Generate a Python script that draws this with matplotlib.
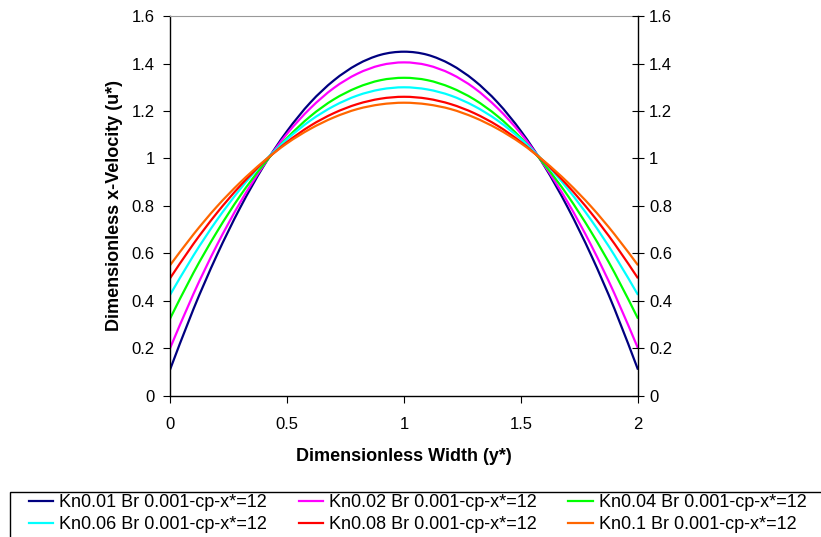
import matplotlib
matplotlib.use("Agg")
import matplotlib.pyplot as plt
import numpy as np
from matplotlib.path import Path
from matplotlib.patches import PathPatch, Rectangle
from matplotlib.lines import Line2D
from matplotlib.ticker import FuncFormatter

plt.rcParams['font.family'] = ['Liberation Sans', 'DejaVu Sans']

# dimensionless width positions
y_pos = [0.0, 0.1, 0.2, 0.3, 0.4, 0.5, 0.6, 0.7, 0.8, 0.9, 1.0,
         1.1, 1.2, 1.3, 1.4, 1.5, 1.6, 1.7, 1.8, 1.9, 2.0]

# velocity profiles
u_kn001 = [0.110, 0.365, 0.592, 0.793, 0.968, 1.115, 1.236, 1.329, 1.396, 1.437, 1.450,
           1.437, 1.396, 1.329, 1.236, 1.115, 0.968, 0.793, 0.592, 0.365, 0.110]
u_kn002 = [0.200, 0.429, 0.634, 0.815, 0.971, 1.104, 1.212, 1.297, 1.357, 1.393, 1.405,
           1.393, 1.357, 1.297, 1.212, 1.104, 0.971, 0.815, 0.634, 0.429, 0.200]
u_kn004 = [0.325, 0.518, 0.690, 0.843, 0.975, 1.086, 1.178, 1.249, 1.299, 1.330, 1.340,
           1.330, 1.299, 1.249, 1.178, 1.086, 0.975, 0.843, 0.690, 0.518, 0.325]
u_kn006 = [0.425, 0.591, 0.740, 0.871, 0.985, 1.081, 1.160, 1.221, 1.265, 1.291, 1.300,
           1.291, 1.265, 1.221, 1.160, 1.081, 0.985, 0.871, 0.740, 0.591, 0.425]
u_kn008 = [0.495, 0.640, 0.770, 0.885, 0.985, 1.069, 1.138, 1.191, 1.229, 1.252, 1.260,
           1.252, 1.229, 1.191, 1.138, 1.069, 0.985, 0.885, 0.770, 0.640, 0.495]
u_kn01 = [0.550, 0.680, 0.797, 0.899, 0.988, 1.064, 1.125, 1.173, 1.208, 1.228, 1.235,
          1.228, 1.208, 1.173, 1.125, 1.064, 0.988, 0.899, 0.797, 0.680, 0.550]

labels = ['Kn0.01 Br 0.001-cp-x*=12', 'Kn0.02 Br 0.001-cp-x*=12',
          'Kn0.04 Br 0.001-cp-x*=12', 'Kn0.06 Br 0.001-cp-x*=12',
          'Kn0.08 Br 0.001-cp-x*=12', 'Kn0.1 Br 0.001-cp-x*=12']
colors = ['#000080', '#FF00FF', '#00FF00', '#00FFFF', '#FF0000', '#FF6600']
series = [u_kn001, u_kn002, u_kn004, u_kn006, u_kn008, u_kn01]


def smooth_path(xs, ys):
    # Excel-style smoothed line: cubic bezier through the data points
    p = np.column_stack([xs, ys])
    n = len(p)
    verts = [p[0]]
    codes = [Path.MOVETO]
    for i in range(n - 1):
        p0 = p[i - 1] if i > 0 else p[i]
        p3 = p[i + 2] if i + 2 < n else p[i + 1]
        c1 = p[i] + (p[i + 1] - p0) / 6.0
        c2 = p[i + 1] - (p3 - p[i]) / 6.0
        verts += [c1, c2, p[i + 1]]
        codes += [Path.CURVE4] * 3
    return Path(verts, codes)


fig = plt.figure(figsize=(8.21, 5.37), dpi=100)
ax = fig.add_axes([0.2071, 0.263, 0.5700, 0.707])

handles = []
for u, c, lab in zip(series, colors, labels):
    ax.add_patch(PathPatch(smooth_path(y_pos, u), fill=False, edgecolor=c, lw=1.6,
                           capstyle='butt', joinstyle='round'))
    handles.append(Line2D([], [], color=c, lw=1.6, label=lab))

ax.set_xlim(0, 2)
ax.set_ylim(0, 1.6)
ax.set_xticks([0, 0.5, 1, 1.5, 2])
ax.set_yticks([0, 0.2, 0.4, 0.6, 0.8, 1.0, 1.2, 1.4, 1.6])
fmt = FuncFormatter(lambda v, p: '%g' % round(v, 2))
ax.xaxis.set_major_formatter(fmt)
ax.yaxis.set_major_formatter(fmt)
ax.tick_params(axis='both', labelsize=12, direction='out', length=5, color='black')
ax.tick_params(axis='x', pad=10)
ax.tick_params(axis='y', pad=6)
ax.spines['top'].set_color('#999999')
ax.spines['right'].set_visible(False)
ax.spines['left'].set_linewidth(1.0)
ax.spines['bottom'].set_linewidth(1.0)

ax2 = ax.twinx()
ax2.set_ylim(0, 1.6)
ax2.set_yticks([0, 0.2, 0.4, 0.6, 0.8, 1.0, 1.2, 1.4, 1.6])
ax2.yaxis.set_major_formatter(fmt)
ax2.tick_params(axis='y', labelsize=12, direction='inout', length=8, pad=4)
for s in ['top', 'left', 'bottom']:
    ax2.spines[s].set_visible(False)
ax2.spines['right'].set_linewidth(1.0)

ax.set_xlabel('Dimensionless Width (y*)', fontsize=13, fontweight='bold', labelpad=12)
ax.set_ylabel('Dimensionless x-Velocity (u*)', fontsize=13, fontweight='bold', labelpad=6)

# legend frame runs off the right and bottom edges of the figure
W, H = 821.0, 537.0
fig.patches.append(Rectangle((10 / W, -0.05), 1.0, 0.05 + 1 - 492 / H,
                             transform=fig.transFigure, fill=False,
                             edgecolor='black', lw=1.0))

# row-major order in a 3-column legend
order = [0, 3, 1, 4, 2, 5]
leg = fig.legend([handles[i] for i in order], [labels[i] for i in order],
                 loc='upper left', bbox_to_anchor=(29 / W, 1 - 494 / H),
                 ncol=3, fontsize=13, frameon=False,
                 handlelength=1.33, handletextpad=0.35,
                 columnspacing=1.75, borderpad=0, borderaxespad=0,
                 labelspacing=0.3)

fig.savefig('out.png', dpi=100)
